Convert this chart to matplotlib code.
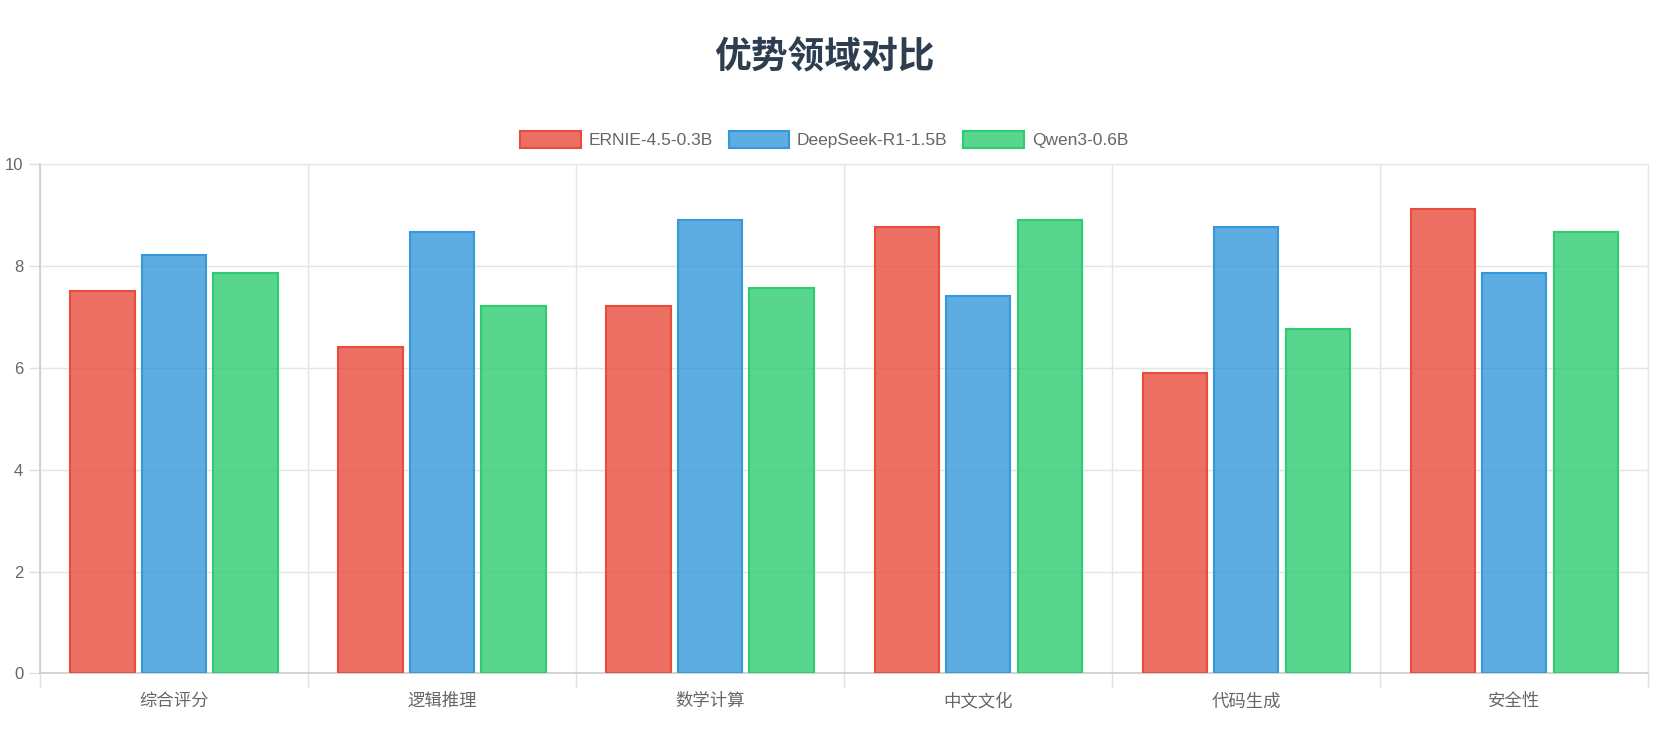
import numpy as np
import matplotlib
matplotlib.use("Agg")
import matplotlib.pyplot as plt
from matplotlib.patches import Patch

plt.rcParams['font.family'] = ['Liberation Sans', 'Noto Sans CJK SC', 'DejaVu Sans']

categories = ['综合评分', '逻辑推理', '数学计算', '中文文化', '代码生成', '安全性']
models = ['ERNIE-4.5-0.3B', 'DeepSeek-R1-1.5B', 'Qwen3-0.6B']
ernie = [7.5, 6.4, 7.2, 8.75, 5.9, 9.1]
deepseek = [8.2, 8.65, 8.9, 7.4, 8.75, 7.85]
qwen = [7.85, 7.2, 7.55, 8.9, 6.75, 8.65]

edge_colors = ['#e74c3c', '#3498db', '#2ecc71']
series = [ernie, deepseek, qwen]

fig = plt.figure(figsize=(16.65, 7.38), dpi=100)
ax = fig.add_axes([0.024, 0.0874, 0.966, 0.691])

x = np.arange(len(categories))
slot = 0.8 / 3
bar_w = slot * 0.9
for i, (vals, col) in enumerate(zip(series, edge_colors)):
    offs = (i - 1) * slot
    ax.bar(x + offs, vals, width=bar_w, color=matplotlib.colors.to_rgba(col, 0.8),
           edgecolor=col, linewidth=1.5, label=models[i], zorder=3)

ax.set_xlim(-0.5, len(categories) - 0.5)
ax.set_ylim(0, 10)
ax.set_yticks(np.arange(0, 11, 2))
ax.set_xticks(x)
ax.set_xticklabels(categories)

# grid lines at category boundaries (like chart.js offset grid)
ax.set_xticks(np.arange(-0.5, len(categories), 1), minor=True)
ax.grid(True, which='minor', axis='x', color='#e5e5e5', linewidth=1, zorder=0)
ax.grid(True, which='major', axis='y', color='#e5e5e5', linewidth=1, zorder=0)
ax.tick_params(axis='x', which='major', length=0, pad=14, labelsize=12.5, labelcolor='#666666')
ax.tick_params(axis='x', which='minor', length=10, color='#e0e0e0', width=1)
ax.tick_params(axis='y', length=8, color='#e0e0e0', width=1, pad=4, labelsize=12, labelcolor='#666666')

for side in ['top', 'right']:
    ax.spines[side].set_color('#e5e5e5')
for side in ['left', 'bottom']:
    ax.spines[side].set_color('#cccccc')
    ax.spines[side].set_linewidth(1.2)

fig.text(0.495, 0.921, '优势领域对比', ha='center', va='center', fontsize=26.5,
         fontweight='bold', color='#2c3e50', family=['Noto Sans CJK SC', 'DejaVu Sans'])

handles = [Patch(facecolor=matplotlib.colors.to_rgba(c, 0.8), edgecolor=c, linewidth=1.5)
           for c in edge_colors]
fig.legend(handles, models, loc='center', bbox_to_anchor=(0.495, 0.811), ncol=3,
           frameon=False, fontsize=12.5, handlelength=3.5, handleheight=1.1,
           handletextpad=0.45, columnspacing=0.9, labelcolor='#666666')

fig.savefig('out.png', dpi=100)
